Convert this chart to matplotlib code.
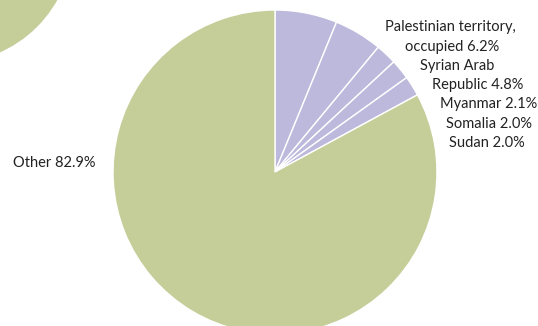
import matplotlib.pyplot as plt
from matplotlib.patches import Circle

plt.rcParams["font.family"] = ["Lato", "DejaVu Sans"]

countries = ["Palestinian territory,\noccupied", "Syrian Arab\nRepublic", "Myanmar", "Somalia", "Sudan", "Other"]
shares = [6.2, 4.8, 2.1, 2.0, 2.0, 82.9]
purple = "#bdb9dc"
green = "#c5ce99"
colors = [purple] * 5 + [green]

W, H = 538, 326
fig = plt.figure(figsize=(W / 100, H / 100), dpi=100)
ax = fig.add_axes([0, 0, 1, 1])

ax.pie(
    shares,
    colors=colors,
    startangle=90,
    counterclock=False,
    center=(275, H - 172),
    radius=162,
    wedgeprops=dict(edgecolor="white", linewidth=1),
)

# decorative circle cut off at top left
ax.add_patch(Circle((-50, H + 60), 123, color=green, lw=0))

ax.set_xlim(0, W)
ax.set_ylim(0, H)
ax.set_aspect("equal")
ax.axis("off")

# labels, one text per line
lines = [
    ("Palestinian territory,", 385, 27),
    (f"occupied {shares[0]}%", 405, 47),
    ("Syrian Arab", 420, 66),
    (f"Republic {shares[1]}%", 432, 85),
    (f"Myanmar {shares[2]}%", 440, 104),
    (f"Somalia {shares[3]}%", 446, 124),
    (f"Sudan {shares[4]}%", 449, 143),
    (f"Other {shares[5]}%", 13, 163),
]
for txt, x, y in lines:
    ax.text(x, H - y, txt, ha="left", va="center", fontsize=10.5, color="#222222")

fig.savefig("out.png", dpi=100)
